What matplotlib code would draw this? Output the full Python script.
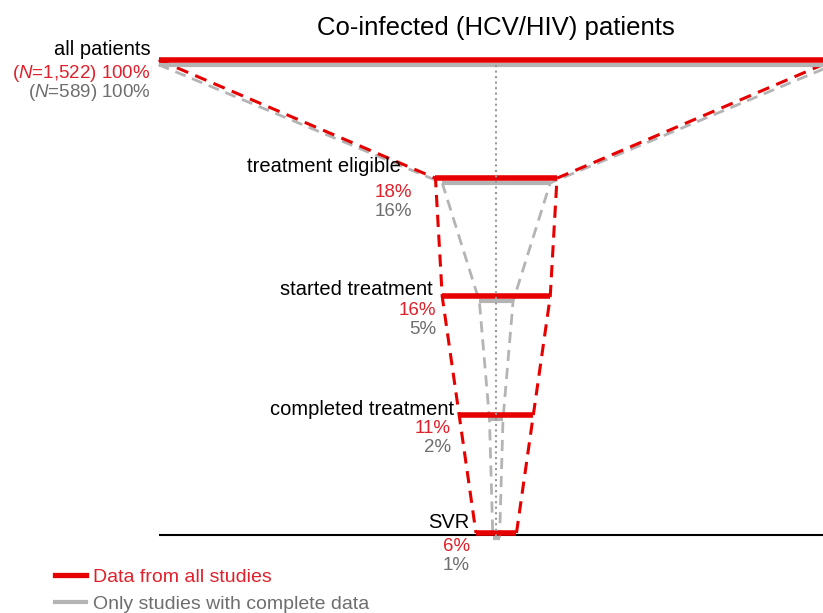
import numpy as np
import matplotlib.pyplot as plt
from matplotlib.lines import Line2D

plt.rcParams['font.family'] = ['Liberation Sans', 'DejaVu Sans']
plt.rcParams['mathtext.fontset'] = 'custom'
plt.rcParams['mathtext.rm'] = 'Liberation Sans'
plt.rcParams['mathtext.it'] = 'Liberation Sans:italic'

# funnel data (percent of patients at each stage)
stages = ['all patients', 'treatment eligible', 'started treatment',
          'completed treatment', 'SVR']
all_pct = [100, 18, 16, 11, 6]
complete_pct = [100, 16, 5, 2, 1]
n_all = 1522
n_complete = 589

RED = '#e60000'
RED_TXT = '#e0202a'
GRAY = '#b4b4b4'
GRAY_TXT = '#6e6e6e'

fig = plt.figure(figsize=(8.23, 6.13), dpi=100)
ax = fig.add_axes([0, 0, 1, 1])
ax.axis('off')
ax.set_xlim(-73.5, 48.4)
ax.set_ylim(4.677, -0.507)

levels = np.arange(len(stages))
a = np.array(all_pct) / 2
c = np.array(complete_pct) / 2
g_off = 0.04

# baseline under SVR
ax.hlines(4.017, -50, 60, color='black', lw=1.5, zorder=0)

# bars
ax.hlines(levels, -a, a, color=RED, lw=4, zorder=4)
ax.hlines(levels + g_off, -c, c, color=GRAY, lw=3, zorder=3)

# dashed funnel sides
for side in (-1, 1):
    ax.plot(side * a, levels, color=RED, lw=2.2, ls=(0, (4, 2.5)), zorder=2)
    ax.plot(side * c, levels + g_off, color=GRAY, lw=2, ls=(0, (4, 2.5)), zorder=1)

# center dotted line
ax.plot([0, 0], [g_off, 4.05], color='#999999', ls=':', lw=1.5, zorder=5)

# labels
name_dx = [-8, -35, -9, -5, -7]
name_dy = [10, 12, 7, 5, 10]
pct_dx = [-8, -23, -6, -8, -6]
for i, s in enumerate(stages):
    x0 = -a[i]
    ax.annotate(s, (x0, levels[i]), xytext=(name_dx[i], name_dy[i]),
                textcoords='offset pixels', ha='right', va='center', fontsize=14.5)
    if i == 0:
        red_lbl = f'($\\it{{N}}$={n_all:,}) {all_pct[i]}%'
        gray_lbl = f'($\\it{{N}}$={n_complete}) {complete_pct[i]}%'
    else:
        red_lbl = f'{all_pct[i]}%'
        gray_lbl = f'{complete_pct[i]}%'
    ax.annotate(red_lbl, (x0, levels[i]), xytext=(pct_dx[i], -14),
                textcoords='offset pixels', ha='right', va='center',
                fontsize=13.5, color=RED_TXT)
    ax.annotate(gray_lbl, (x0, levels[i]), xytext=(pct_dx[i], -33),
                textcoords='offset pixels', ha='right', va='center',
                fontsize=13.5, color=GRAY_TXT)

ax.text(0, -0.27, 'Co-infected (HCV/HIV) patients', ha='center', va='center',
        fontsize=18.5)

handles = [Line2D([], [], color=RED, lw=3.8),
           Line2D([], [], color=GRAY, lw=3)]
leg = ax.legend(handles, ['Data from all studies', 'Only studies with complete data'],
                loc='lower left', bbox_to_anchor=(55 / 823, 0),
                bbox_transform=fig.transFigure, frameon=False, fontsize=14,
                handlelength=1.6, handletextpad=0.36, labelspacing=0.5,
                borderpad=0, borderaxespad=0)
for t, col in zip(leg.get_texts(), [RED_TXT, GRAY_TXT]):
    t.set_color(col)

fig.savefig('out.png', dpi=100)
